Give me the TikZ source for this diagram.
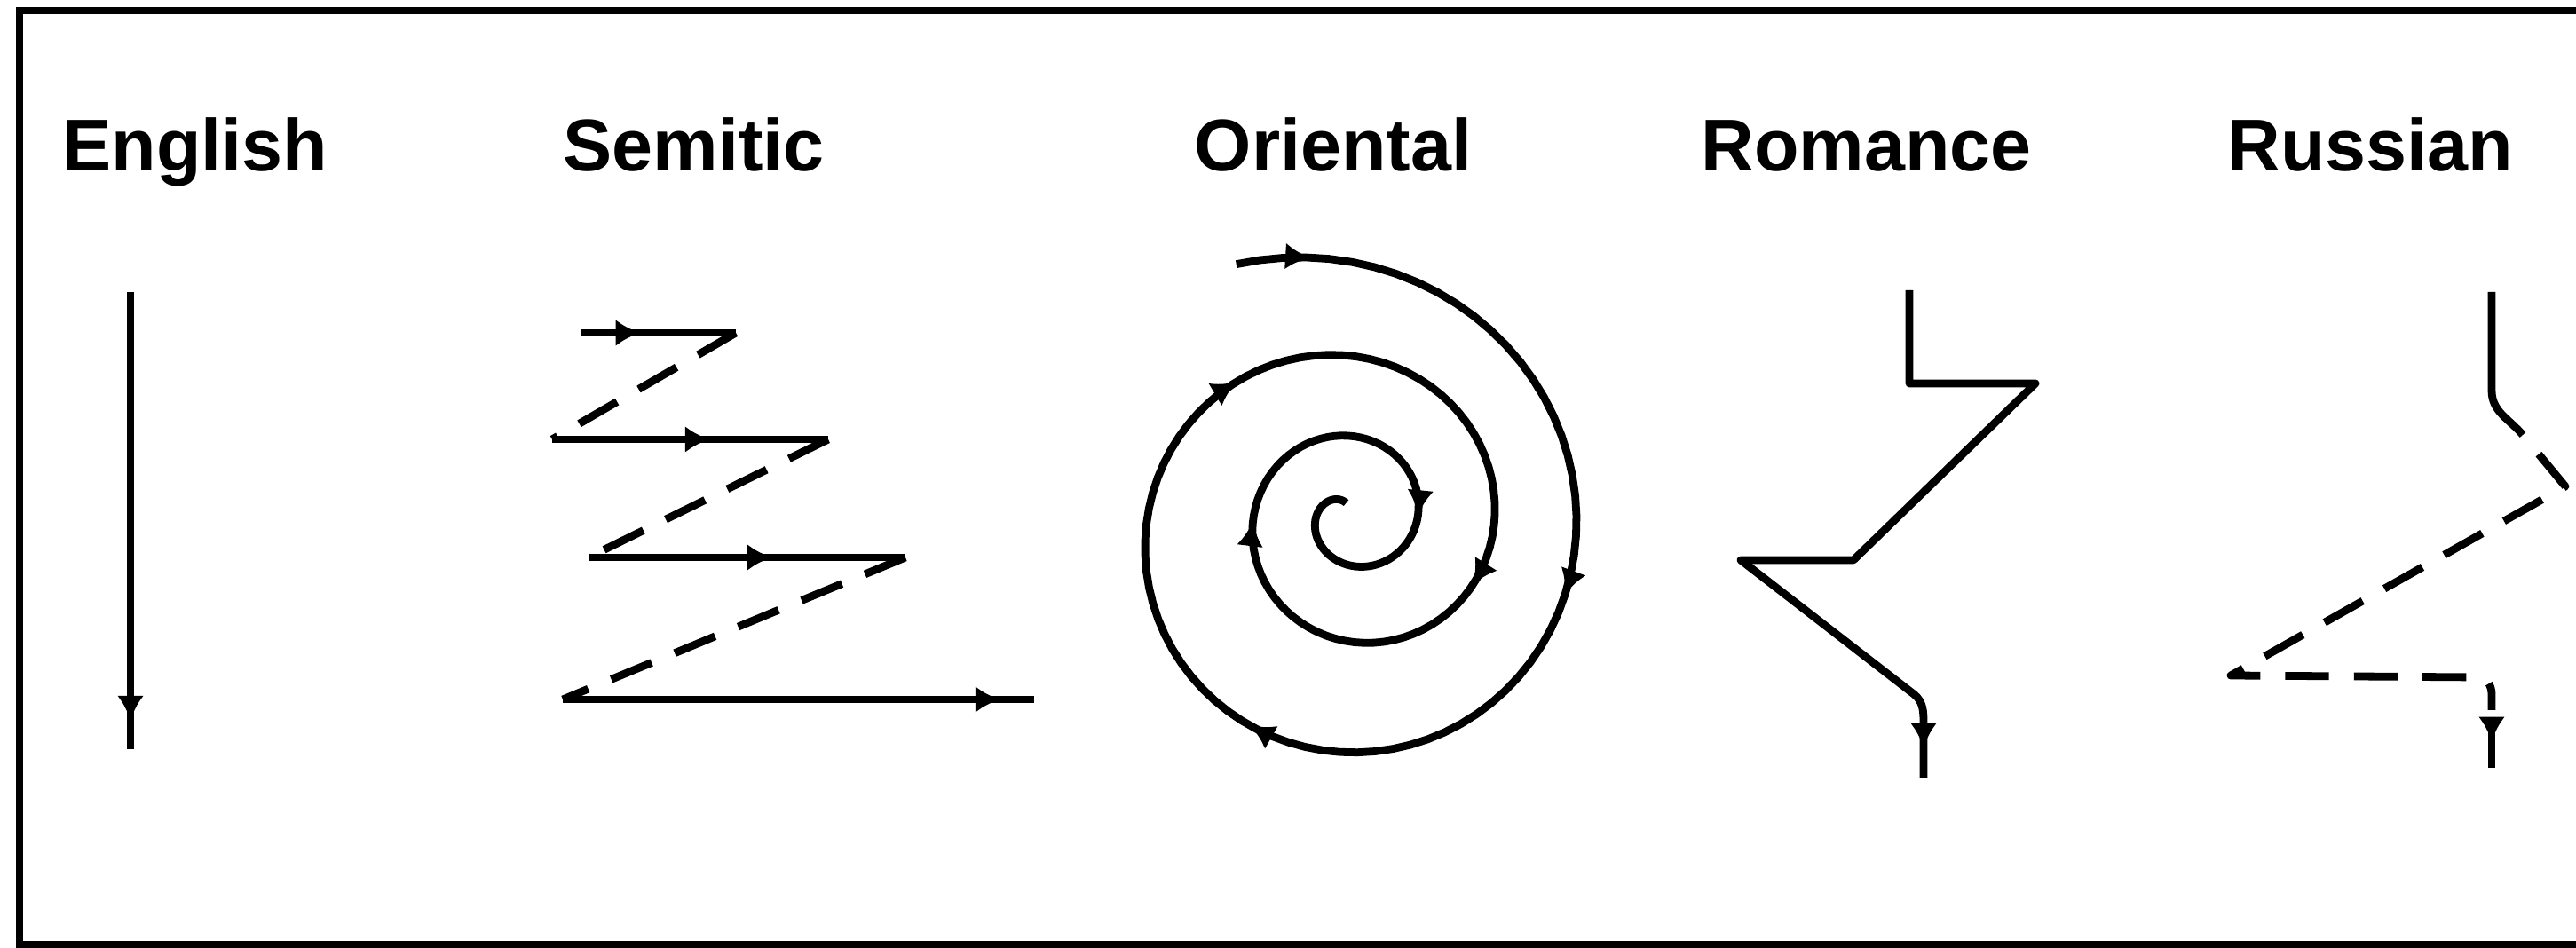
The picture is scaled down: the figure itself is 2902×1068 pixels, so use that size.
\documentclass[tikz,border=0pt]{standalone}
\usepackage{fontspec}
\setmainfont{Liberation Sans}
\usetikzlibrary{arrows.meta,decorations.markings}
\tikzset{
  >={Latex[length=8pt,width=8.5pt]},
  title/.style      = {anchor=base west, inner sep=0pt, font=\fontsize{23.5}{28}\selectfont\bfseries},
  frame/.style      = {line width=2.3pt},
  stroke/.style     = {line width=2.5pt, line join=round},
  dashstroke/.style = {stroke, dash pattern=on 14pt off 8pt},
  tipat/.style      = {postaction={decorate}, decoration={markings,
                       mark=at position #1 with {\arrow{>}}}},
  spiraltips/.style = {postaction={decorate}, decoration={markings,
                       mark=at position 0.029 with {\arrow{>}},
                       mark=at position 0.219 with {\arrow{>}},
                       mark=at position 0.371 with {\arrow{>}},
                       mark=at position 0.532 with {\arrow{>}},
                       mark=at position 0.699 with {\arrow{>}},
                       mark=at position 0.821 with {\arrow{>}},
                       mark=at position 0.922 with {\arrow{>}}}},
  declare function={
    spt(\p) = \p/360;
    spr(\p) = 316 - 140*spt(\p) + 14*spt(\p)*spt(\p);
    spx(\p) = 1483.5 + 43.8*spt(\p) - 11.25*spt(\p)*spt(\p) + spr(\p)*sin(\p);
    spy(\p) = 606.5 - 20.9*spt(\p) + 4.75*spt(\p)*spt(\p) - spr(\p)*cos(\p);
  },
}
\begin{document}
\begin{tikzpicture}[x=0.01cm, y=-0.01cm]
\useasboundingbox (0,0) rectangle (2902,1068);
\clip (0,0) rectangle (2902,1068);

% ---- frame (open to the right) ----
\draw[frame] (22,12) rectangle (2960,1064);

% ---- headings ----
\node[title] (english)  at (70,193)   {English};
\node[title] (semitic)  at (634,193)  {Semitic};
\node[title] (oriental) at (1345,193) {Oriental};
\node[title] (romance)  at (1916,193) {Romance};
\node[title] (russian)  at (2509,193) {Russian};

% ---- English: straight down ----
\draw[stroke, tipat=-9.1pt] (147,329) -- (147,844);

% ---- Semitic: lines to the right, dashed returns ----
\coordinate (s1a) at (655,375);  \coordinate (s1b) at (829,375);
\coordinate (s2a) at (622,495);  \coordinate (s2b) at (933,495);
\coordinate (s3a) at (663,628);  \coordinate (s3b) at (1020,628);
\coordinate (s4a) at (634,788);  \coordinate (s4b) at (1165,788);
\draw[stroke, tipat=19pt]    (s1a) -- (s1b);
\draw[stroke, tipat=50.6pt]  (s2a) -- (s2b);
\draw[stroke, tipat=58.9pt]  (s3a) -- (s3b);
\draw[stroke, tipat=-10.8pt] (s4a) -- (s4b);
\draw[dashstroke] (s1b) -- (s2a);
\draw[dashstroke] (s2b) -- (s3a);
\draw[dashstroke] (s3b) -- (s4a);

% ---- Oriental: spiral inwards, clockwise ----
\draw[stroke, spiraltips] plot[domain=-16:1090, samples=240]
   ({spx(\x)}, {spy(\x)});

% ---- Romance ----
\draw[stroke, tipat=-9.4pt] (2151,327) -- (2151,432) -- (2293,432) -- (2088,631)
   -- (1961,631) -- (2156,782) to[out=-38, in=90] (2167,815) -- (2167,876);

% ---- Russian ----
\draw[stroke] (2807,329) -- (2807,440) to[out=-90, in=130] (2842,490);
\draw[dashstroke, dash phase=14pt] (2842,490) -- (2890,548) -- (2513,761)
   -- (2792,763) to[out=0, in=90] (2807,782) -- (2807,800);
\draw[stroke, tipat=-8.3pt] (2807,812) -- (2807,865);

\end{tikzpicture}
\end{document}
